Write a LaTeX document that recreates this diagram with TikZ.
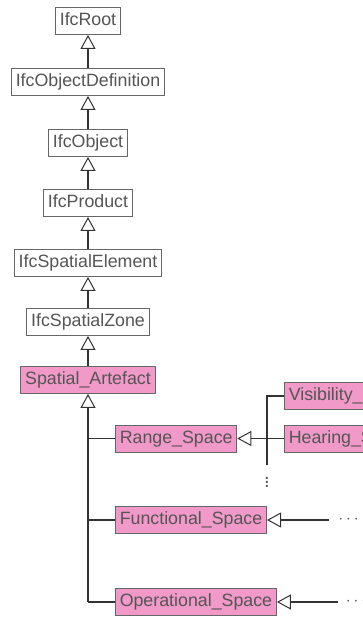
\documentclass[tikz,border=0pt]{standalone}
\usepackage{fontspec}
\setmainfont{Liberation Sans}
\usetikzlibrary{arrows.meta}
\definecolor{txt}{HTML}{555555}
\definecolor{edge}{HTML}{333333}
\definecolor{rim}{HTML}{666666}
\definecolor{pinkfill}{HTML}{F199C8}
\tikzset{
  cls/.style={draw=rim, line width=0.9pt, fill=white, text=txt,
    font=\fontsize{17.8}{20}\selectfont, inner xsep=4.3pt, inner ysep=0pt,
    minimum height=27pt, text height=12.8pt, text depth=3.6pt},
  own/.style={cls, fill=pinkfill},
  link/.style={draw=edge, line width=1.6pt},
  inh/.style={link, -{Triangle[open, length=14pt, width=15pt, line width=1pt, fill=white]}},
  dotsnode/.style={text=txt, inner sep=0pt}
}
\begin{document}
\begin{tikzpicture}[x=1pt, y=-1pt]
\useasboundingbox (0,0) rectangle (363,617);
\clip (0,0) rectangle (363,617);

% IFC supertype chain
\node[cls] (root) at (88,21) {IfcRoot};
\node[cls] (objdef) at (88,82) {IfcObjectDefinition};
\node[cls] (obj) at (88,143) {IfcObject};
\node[cls] (prod) at (88,203) {IfcProduct};
\node[cls] (spel) at (88,263) {IfcSpatialElement};
\node[cls] (spzone) at (88,322) {IfcSpatialZone};
\node[own] (art) at (88,380) {Spatial\_Artefact};

\draw[inh] (objdef) -- (root);
\draw[inh] (obj) -- (objdef);
\draw[inh] (prod) -- (obj);
\draw[inh] (spel) -- (prod);
\draw[inh] (spzone) -- (spel);
\draw[inh] (art) -- (spzone);

% Spatial artefact subtypes
\node[own, anchor=west] (range) at (115,438.5) {Range\_Space};
\node[own, anchor=west] (func) at (115,520) {Functional\_Space};
\node[own, anchor=west] (oper) at (115,602) {Operational\_Space};

\coordinate (trunk) at (art.south |- oper.west);
\draw[inh] (trunk) -- (art.south);
\draw[link] (range.west) -- (range.west -| art.south);
\draw[link] (func.west) -- (func.west -| art.south);
\draw[link] (oper.west) -- (trunk);

% Range space subtypes
\node[own, anchor=west] (vis) at (284,396) {Visibility\_Space};
\node[own, anchor=west] (hear) at (284,438.5) {Hearing\_Space};
\coordinate (rbot) at (267,465);
\draw[link] (vis.west) -| (rbot);
\draw[inh] (hear.west) -- (range.east);
\node[dotsnode] (rdots) at (267,479.5) {\fontsize{20}{20}\selectfont$\vdots$};

% Further subtypes, elided
\coordinate (fend) at (329,520);
\coordinate (oend) at (338,602);
\draw[inh] (fend) -- (func.east);
\draw[inh] (oend) -- (oper.east);
\node[dotsnode] (fdots) at (348.5,520) {\fontsize{19}{19}\selectfont$\cdots$};
\node[dotsnode] (odots) at (356,602) {\fontsize{19}{19}\selectfont$\cdots$};
\end{tikzpicture}
\end{document}
